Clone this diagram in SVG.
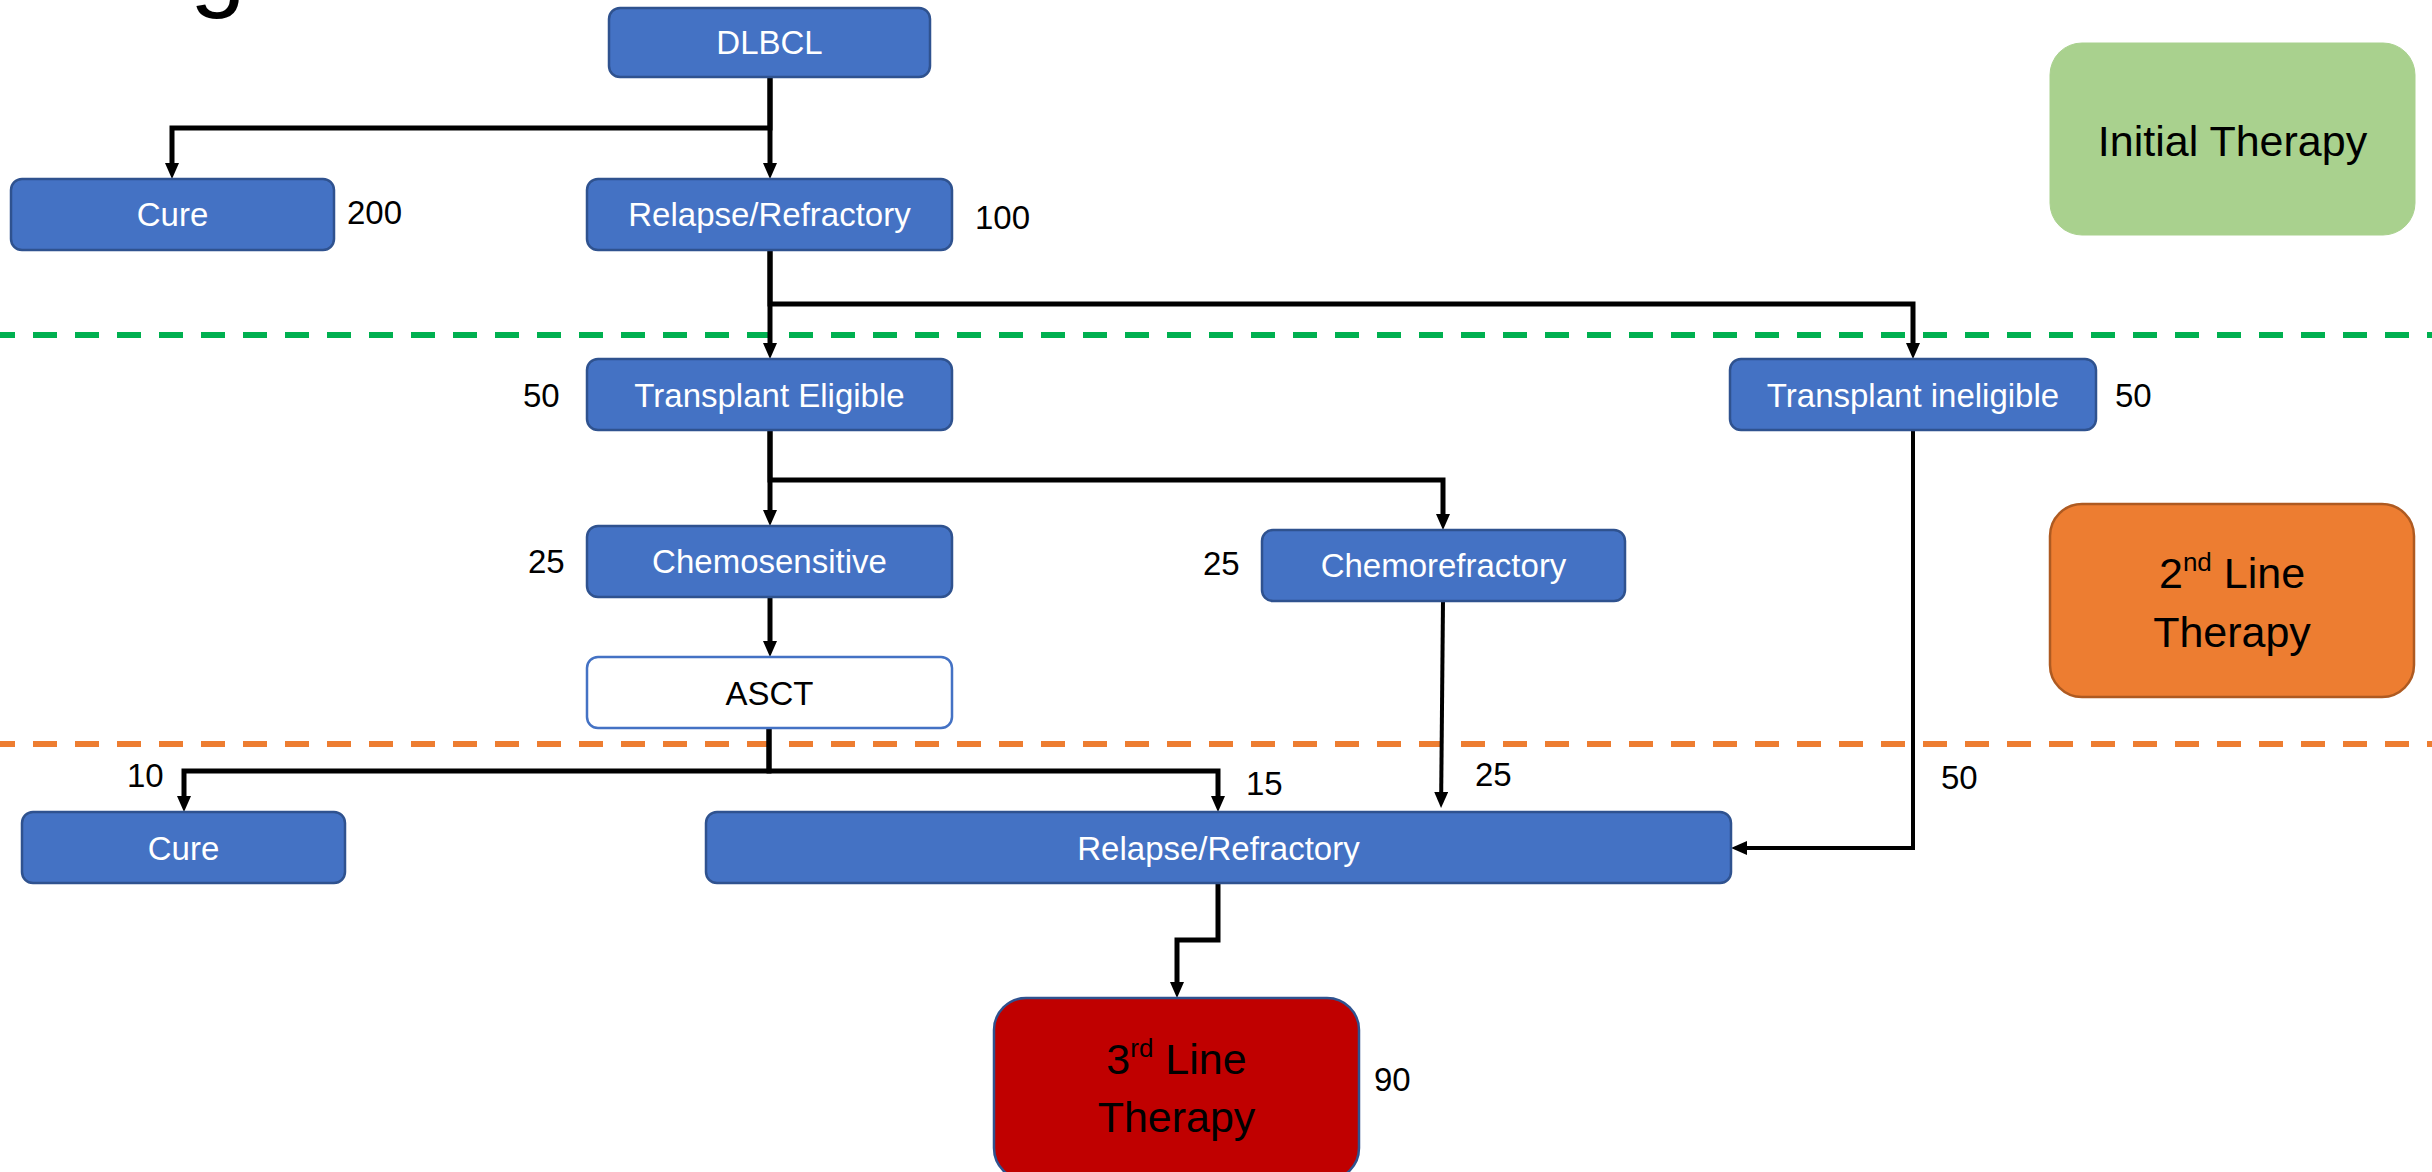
<svg xmlns="http://www.w3.org/2000/svg" width="2432" height="1172" viewBox="0 0 2432 1172">
<style>
.bx{fill:#4472C4;stroke:#2F528F;stroke-width:2.5}
.wt{font-family:"Liberation Sans",Arial,sans-serif;font-size:33px;fill:#FFFFFF;text-anchor:middle}
.bt{font-family:"Liberation Sans",Arial,sans-serif;font-size:33px;fill:#000000;text-anchor:middle}
.num{font-family:"Liberation Sans",Arial,sans-serif;font-size:33px;fill:#000000}
.big{font-family:"Liberation Sans",Arial,sans-serif;font-size:43px;fill:#000000;text-anchor:middle}
.cn{fill:none;stroke:#000000;stroke-width:5;stroke-linejoin:miter;marker-end:url(#ah)}
.cnt{fill:none;stroke:#000000;stroke-width:4;stroke-linejoin:miter;marker-end:url(#ah)}
.dash{fill:none;stroke-width:6;stroke-dasharray:24 18;stroke-dashoffset:9}
</style>
<defs>
<marker id="ah" markerUnits="userSpaceOnUse" markerWidth="16" markerHeight="14" viewBox="0 0 16 14" refX="1" refY="7" orient="auto">
<path d="M0,0 L16,7 L0,14 Z" fill="#000000"/>
</marker>
</defs>
<rect width="2432" height="1172" fill="#FFFFFF"/>
<text x="190" y="-2" font-family="Liberation Sans,Arial,sans-serif" font-size="100" fill="#000000">g</text>
<g id="separators">
<line class="dash" x1="0" y1="335" x2="2432" y2="335" stroke="#00B050"/>
<line class="dash" x1="0" y1="744" x2="2432" y2="744" stroke="#ED7D31"/>
</g>
<g id="connectors">
<path class="cn" d="M770,77 V128 H172 V164"/>
<path class="cn" d="M770,77 V164"/>
<path class="cn" d="M770,250 V344"/>
<path class="cn" d="M770,250 V304 H1913 V344"/>
<path class="cn" d="M770,430 V511"/>
<path class="cn" d="M770,430 V480 H1443 V515"/>
<path class="cn" d="M770,597 V642"/>
<path class="cn" d="M769,728 V771 H184 V797"/>
<path class="cn" d="M769,728 V771 H1218 V797"/>
<path class="cnt" d="M1443,601 L1441.2,793"/>
<path class="cnt" d="M1913,430 V848 H1746"/>
<path class="cn" d="M1218,883 V940 H1177 V983"/>
</g>
<g id="node-dlbcl">
<rect class="bx" x="609" y="8" width="321" height="69" rx="11"/>
<text class="wt" x="769.5" y="54">DLBCL</text>
</g>
<g id="node-cure-1">
<rect class="bx" x="11" y="179" width="323" height="71" rx="11"/>
<text class="wt" x="172.5" y="226">Cure</text>
<text class="num" x="347" y="224">200</text>
</g>
<g id="node-relapse-1">
<rect class="bx" x="587" y="179" width="365" height="71" rx="11"/>
<text class="wt" x="769.5" y="226">Relapse/Refractory</text>
<text class="num" x="975" y="229">100</text>
</g>
<g id="node-initial">
<rect x="2050" y="43" width="365" height="192" rx="32" fill="#A9D18E" stroke="#A9D18E" stroke-width="1"/>
<text class="big" x="2232.5" y="156">Initial Therapy</text>
</g>
<g id="node-eligible">
<rect class="bx" x="587" y="359" width="365" height="71" rx="11"/>
<text class="wt" x="769.5" y="407">Transplant Eligible</text>
<text class="num" x="523" y="407">50</text>
</g>
<g id="node-ineligible">
<rect class="bx" x="1730" y="359" width="366" height="71" rx="11"/>
<text class="wt" x="1913" y="407">Transplant ineligible</text>
<text class="num" x="2115" y="407">50</text>
</g>
<g id="node-chemosensitive">
<rect class="bx" x="587" y="526" width="365" height="71" rx="11"/>
<text class="wt" x="769.5" y="573">Chemosensitive</text>
<text class="num" x="528" y="573">25</text>
</g>
<g id="node-chemorefractory">
<rect class="bx" x="1262" y="530" width="363" height="71" rx="11"/>
<text class="wt" x="1443.5" y="577">Chemorefractory</text>
<text class="num" x="1203" y="575">25</text>
</g>
<g id="node-second-line">
<rect x="2050" y="504" width="364" height="193" rx="32" fill="#ED7D31" stroke="#AE5A21" stroke-width="2.5"/>
<text class="big" x="2232" y="588">2<tspan font-size="26" dy="-17">nd</tspan><tspan dy="17"> Line</tspan></text>
<text class="big" x="2232" y="647">Therapy</text>
</g>
<g id="node-asct">
<rect x="587" y="657" width="365" height="71" rx="11" fill="#FFFFFF" stroke="#4472C4" stroke-width="2.5"/>
<text class="bt" x="769.5" y="705">ASCT</text>
</g>
<g id="node-cure-2">
<rect class="bx" x="22" y="812" width="323" height="71" rx="11"/>
<text class="wt" x="183.5" y="860">Cure</text>
<text class="num" x="127" y="787">10</text>
</g>
<g id="node-relapse-2">
<rect class="bx" x="706" y="812" width="1025" height="71" rx="11"/>
<text class="wt" x="1218.5" y="860">Relapse/Refractory</text>
<text class="num" x="1246" y="795">15</text>
<text class="num" x="1475" y="786">25</text>
<text class="num" x="1941" y="789">50</text>
</g>
<g id="node-third-line">
<rect x="994" y="998" width="365" height="182" rx="32" fill="#C00000" stroke="#2F528F" stroke-width="2.5"/>
<text class="big" x="1176.5" y="1074">3<tspan font-size="26" dy="-17">rd</tspan><tspan dy="17"> Line</tspan></text>
<text class="big" x="1176.5" y="1132">Therapy</text>
<text class="num" x="1374" y="1091">90</text>
</g>
</svg>
